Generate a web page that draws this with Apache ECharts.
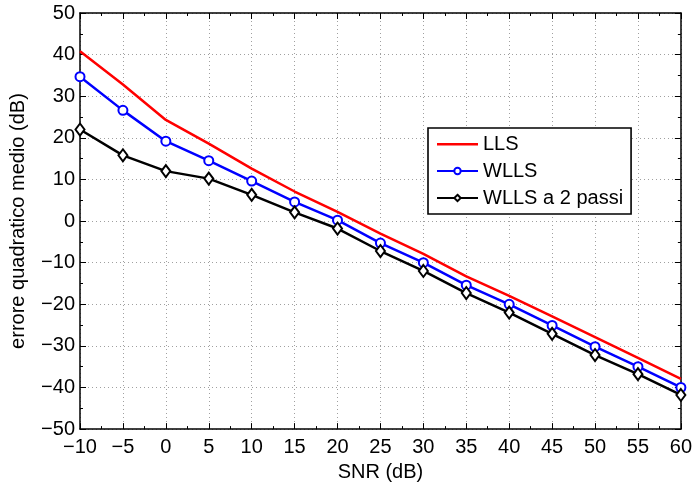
<!DOCTYPE html>
<html>
<head>
<meta charset="utf-8">
<script src="https://cdn.jsdelivr.net/npm/echarts@6/dist/echarts.min.js"></script>
<style>html,body{margin:0;padding:0;background:#fff}#c{width:695px;height:487px}</style>
</head>
<body>
<div id="c"></div>
<script>
const snr = [-10, -5, 0, 5, 10, 15, 20, 25, 30, 35, 40, 45, 50, 55, 60];
const lls = [40.8, 32.8, 24.3, 18.6, 12.6, 7.1, 2.2, -3.0, -7.9, -13.3, -18.0, -22.9, -27.9, -32.9, -37.9];
const wlls = [34.7, 26.6, 19.2, 14.5, 9.6, 4.6, 0.2, -5.3, -10.0, -15.4, -20.0, -25.1, -30.2, -35.0, -40.0];
const wlls2 = [22.0, 15.8, 12.0, 10.2, 6.3, 2.1, -1.8, -7.2, -12.0, -17.3, -22.0, -27.1, -32.2, -36.8, -41.8];
const seriesNames = ['LLS', 'WLLS', 'WLLS a 2 passi'];
const xName = 'SNR (dB)';
const yName = 'errore quadratico medio (dB)';

const FONT = "'Liberation Sans', Arial, Helvetica, sans-serif";
const chart = echarts.init(document.getElementById('c'), null, {renderer: 'canvas'});

function pair(arr) { return snr.map((x, i) => [x, arr[i]]); }

const axisLineStyle = {color: '#000', width: 1.5};
const tickStyle = {show: true, inside: true, length: 6, lineStyle: {color: '#000', width: 1}};
const minorStyle = {show: true, splitNumber: 2, length: 3, lineStyle: {color: '#000', width: 1}};
const gridLine = {show: true, lineStyle: {color: '#a0a0a0', width: 1, type: [1, 3]}};
const minus = v => String(v).replace('-', '\u2212');

chart.setOption({
  animation: false,
  backgroundColor: '#fff',
  textStyle: {fontFamily: FONT, color: '#000'},
  grid: {left: 80, right: 13, top: 13, bottom: 53, containLabel: false},
  legend: {
    orient: 'vertical', left: 428, top: 128,
    data: [
      {name: seriesNames[0], icon: 'path://M0,0 M0,3 L41,3 L41,5.5 L0,5.5 Z M41,8'},
      {name: seriesNames[1]},
      {name: seriesNames[2]}
    ],
    itemWidth: 41, itemHeight: 8, itemGap: 7,
    padding: [6, 8, 6, 8],
    borderColor: '#000', borderWidth: 1.6, backgroundColor: '#fff',
    textStyle: {fontFamily: FONT, fontSize: 20, color: '#000', lineHeight: 20},
    selectedMode: false
  },
  xAxis: [{
    type: 'value', min: -10, max: 60, interval: 5, position: 'bottom',
    name: xName, nameLocation: 'middle', nameGap: 28,
    nameTextStyle: {fontFamily: FONT, fontSize: 20, color: '#000'},
    axisLine: {show: true, onZero: false, lineStyle: axisLineStyle},
    axisTick: tickStyle, minorTick: minorStyle,
    axisLabel: {fontFamily: FONT, fontSize: 20, color: '#000', margin: 8, formatter: minus},
    splitLine: gridLine
  }, {
    type: 'value', min: -10, max: 60, interval: 5, position: 'top',
    axisLine: {show: true, onZero: false, lineStyle: axisLineStyle},
    axisTick: tickStyle, minorTick: minorStyle,
    axisLabel: {show: false}, splitLine: {show: false}
  }],
  yAxis: [{
    type: 'value', min: -50, max: 50, interval: 10, position: 'left',
    name: yName, nameLocation: 'middle', nameGap: 52,
    nameTextStyle: {fontFamily: FONT, fontSize: 20, color: '#000'},
    axisLine: {show: true, onZero: false, lineStyle: axisLineStyle},
    axisTick: tickStyle, minorTick: minorStyle,
    axisLabel: {fontFamily: FONT, fontSize: 20, color: '#000', margin: 5, formatter: minus},
    splitLine: gridLine
  }, {
    type: 'value', min: -50, max: 50, interval: 10, position: 'right',
    axisLine: {show: true, onZero: false, lineStyle: axisLineStyle},
    axisTick: tickStyle, minorTick: minorStyle,
    axisLabel: {show: false}, splitLine: {show: false}
  }],
  series: [{
    name: seriesNames[0], type: 'line', data: pair(lls),
    symbol: 'none', lineStyle: {color: '#ff0000', width: 2.5}, itemStyle: {color: '#ff0000'}
  }, {
    name: seriesNames[1], type: 'line', data: pair(wlls),
    symbol: 'emptyCircle', symbolSize: 9,
    lineStyle: {color: '#0000ff', width: 2.5},
    itemStyle: {color: '#0000ff', borderColor: '#0000ff', borderWidth: 2}
  }, {
    name: seriesNames[2], type: 'line', data: pair(wlls2),
    symbol: 'emptyDiamond', symbolSize: [9, 12],
    lineStyle: {color: '#000000', width: 2.5},
    itemStyle: {color: '#000000', borderColor: '#000000', borderWidth: 2}
  }]
});
</script>
</body>
</html>
